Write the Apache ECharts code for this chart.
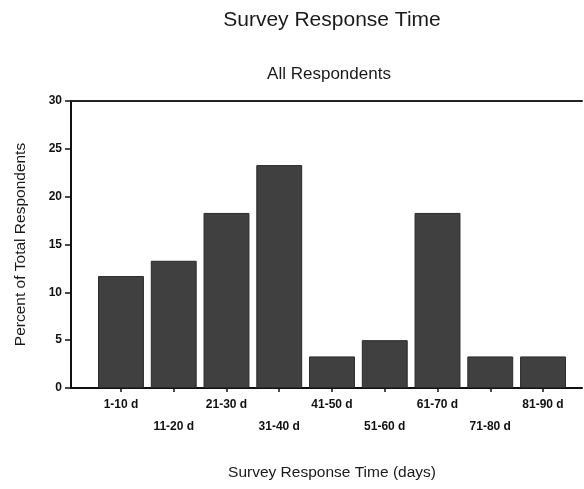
<!DOCTYPE html>
<html>
<head>
<meta charset="utf-8">
<script src="https://cdn.jsdelivr.net/npm/echarts@6/dist/echarts.min.js"></script>
<style>
html,body{margin:0;padding:0;background:#fff;}
#chart{width:584px;height:489px;}
</style>
</head>
<body>
<div id="chart"></div>
<script>
const categories = ['1-10 d','11-20 d','21-30 d','31-40 d','41-50 d','51-60 d','61-70 d','71-80 d','81-90 d'];
const percentValues = [11.7, 13.3, 18.3, 23.3, 3.3, 5.0, 18.3, 3.3, 3.3];
const yTicks = { min: 0, max: 30, interval: 5 };
const titleText = 'Survey Response Time';
const subtitleText = 'All Respondents';
const xAxisName = 'Survey Response Time (days)';
const yAxisName = 'Percent of Total Respondents';

const font = '"Liberation Sans", Arial, sans-serif';
const chart = echarts.init(document.getElementById('chart'), null, {renderer: 'canvas'});
chart.setOption({
  animation: false,
  backgroundColor: '#fff',
  title: [
    {text: titleText, left: 327, top: 5, textAlign: 'center',
     textStyle: {fontFamily: font, fontSize: 21, fontWeight: 'normal', color: '#1a1a1a'}},
    {text: subtitleText, left: 324, top: 61, textAlign: 'center',
     textStyle: {fontFamily: font, fontSize: 17, fontWeight: 'normal', color: '#1a1a1a'}},
    {text: xAxisName, left: 327, top: 460, textAlign: 'center',
     textStyle: {fontFamily: font, fontSize: 15.5, fontWeight: 'normal', color: '#1a1a1a'}}
  ],
  grid: [
    {left: 71, right: 2, top: 101, bottom: 101},
    {left: 94.6, right: 14.6, top: 101, bottom: 101}
  ],
  xAxis: [
    {gridIndex: 0, type: 'value', min: 0, max: 1, position: 'bottom',
     axisLine: {show: true, lineStyle: {color: '#111', width: 2}},
     axisTick: {show: false}, axisLabel: {show: false}, splitLine: {show: false}},
    {gridIndex: 0, type: 'value', min: 0, max: 1, position: 'top',
     axisLine: {show: true, lineStyle: {color: '#222', width: 2}},
     axisTick: {show: false}, axisLabel: {show: false}, splitLine: {show: false}},
    {gridIndex: 1, type: 'category', data: categories, position: 'bottom',
     axisLine: {show: false},
     axisTick: {show: true, alignWithLabel: true, length: 4, lineStyle: {color: '#111', width: 1.5}},
     axisLabel: {interval: 0, margin: 6, lineHeight: 22, fontFamily: font, fontSize: 12, fontWeight: 'bold', color: '#111',
       formatter: (v, i) => (i % 2 ? '\n' + v : v)}}
  ],
  yAxis: [
    {gridIndex: 0, type: 'value', min: yTicks.min, max: yTicks.max, interval: yTicks.interval,
     name: yAxisName, nameLocation: 'middle', nameGap: 42, nameRotate: 90,
     nameTextStyle: {fontFamily: font, fontSize: 15.5, color: '#1a1a1a'},
     axisLine: {show: true, lineStyle: {color: '#111', width: 2}},
     axisTick: {show: true, length: 6, lineStyle: {color: '#111', width: 1.5}},
     axisLabel: {margin: 9, fontFamily: font, fontSize: 12, fontWeight: 'bold', color: '#111'},
     splitLine: {show: false}},
    {gridIndex: 1, type: 'value', min: yTicks.min, max: yTicks.max, interval: yTicks.interval, show: false}
  ],
  series: [{
    type: 'bar', xAxisIndex: 2, yAxisIndex: 1, data: percentValues,
    barCategoryGap: '13%',
    itemStyle: {color: '#404040', borderColor: '#2a2a2a', borderWidth: 1}
  }]
});
</script>
</body>
</html>
